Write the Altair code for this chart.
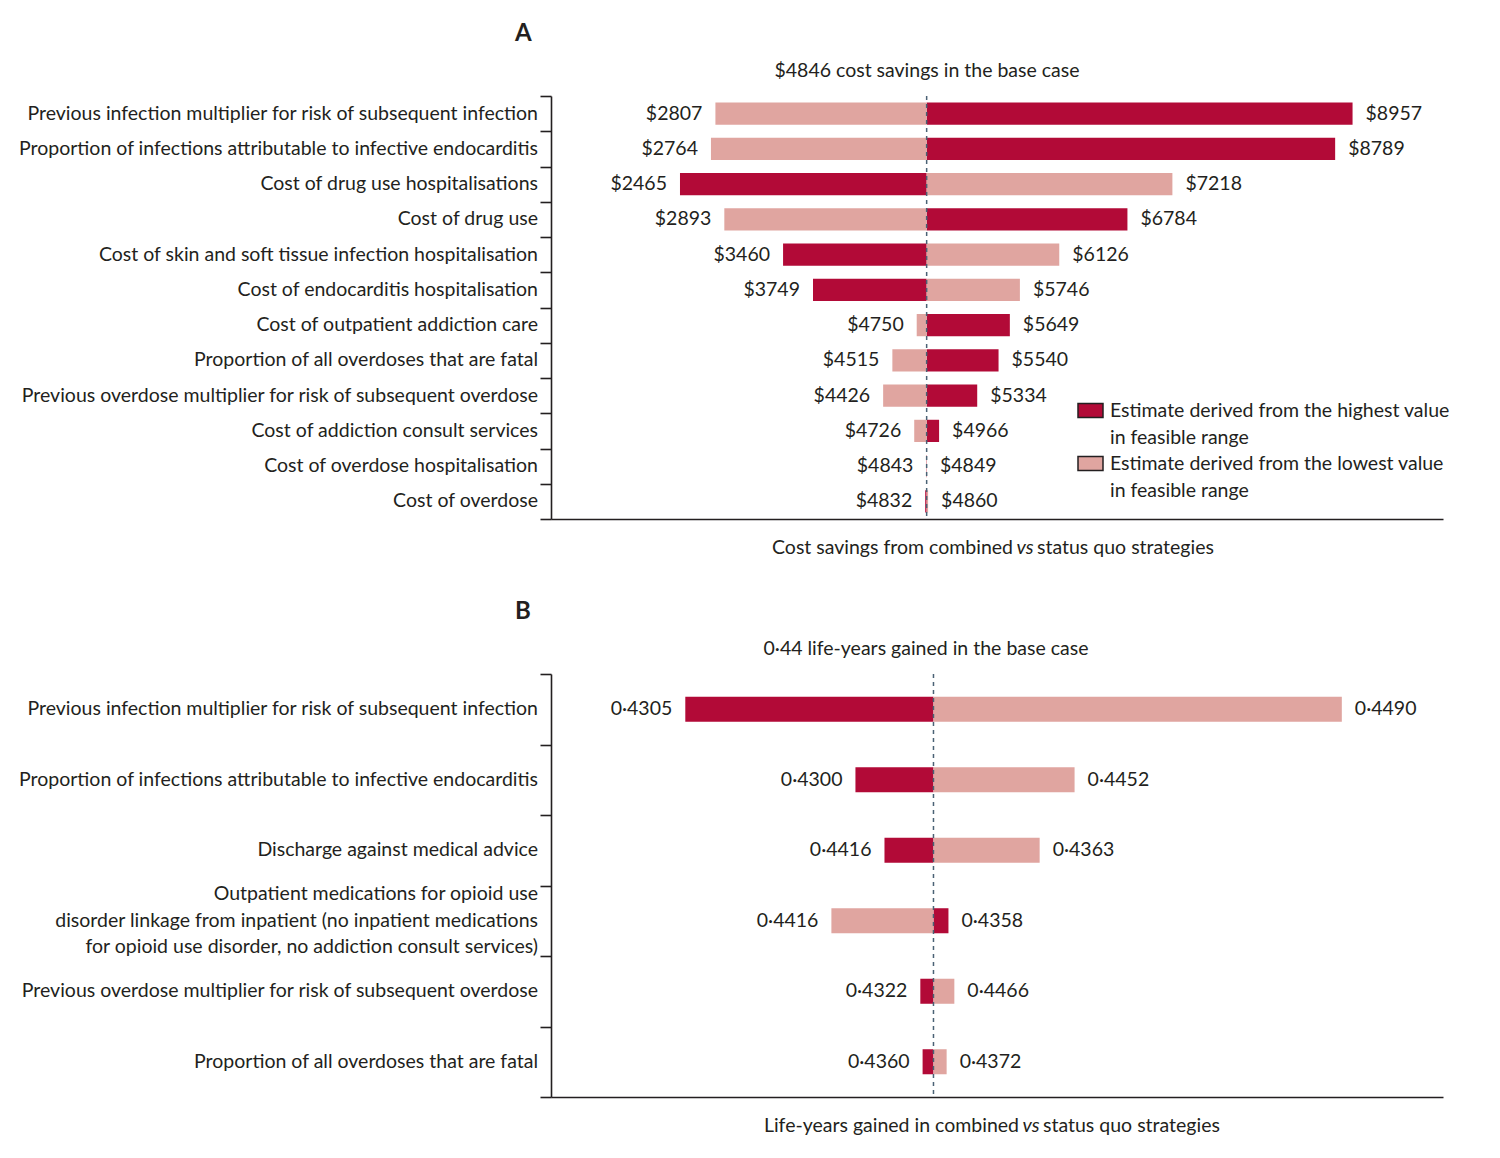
import altair as alt
import pandas as pd

FONT = "Lato"
FS = 19.5
LH = 26.5
DARK = "#b20a37"
LIGHT = "#e0a5a0"
TEXT = "#231f20"
DASH = "#4a6275"

# ---------------- Panel A data ----------------
a_params = [
    "Previous infection multiplier for risk of subsequent infection",
    "Proportion of infections attributable to infective endocarditis",
    "Cost of drug use hospitalisations",
    "Cost of drug use",
    "Cost of skin and soft tissue infection hospitalisation",
    "Cost of endocarditis hospitalisation",
    "Cost of outpatient addiction care",
    "Proportion of all overdoses that are fatal",
    "Previous overdose multiplier for risk of subsequent overdose",
    "Cost of addiction consult services",
    "Cost of overdose hospitalisation",
    "Cost of overdose",
]
a_from_highest = [8957, 8789, 2465, 6784, 3460, 3749, 5649, 5540, 5334, 4966, 4849, 4832]
a_from_lowest = [2807, 2764, 7218, 2893, 6126, 5746, 4750, 4515, 4426, 4726, 4843, 4860]
a_base = 4846
a_domain = [1220, 9830]

# ---------------- Panel B data ----------------
b_params = [
    "Previous infection multiplier for risk of subsequent infection",
    "Proportion of infections attributable to infective endocarditis",
    "Discharge against medical advice",
    "Outpatient medications for opioid use|disorder linkage from inpatient (no inpatient medications|for opioid use disorder, no addiction consult services)",
    "Previous overdose multiplier for risk of subsequent overdose",
    "Proportion of all overdoses that are fatal",
]
# bar ends as drawn in the figure
b_from_highest = [0.43453, 0.43828, 0.43892, 0.44033, 0.43971, 0.43976]
b_from_lowest = [0.44900, 0.44311, 0.44234, 0.43775, 0.44046, 0.44029]
# printed values
b_left_text = ["0·4305", "0·4300", "0·4416", "0·4416", "0·4322", "0·4360"]
b_right_text = ["0·4490", "0·4452", "0·4363", "0·4358", "0·4466", "0·4372"]
b_base = 0.44
b_domain = [0.43157, 0.45123]

HIGH = "Estimate derived from the highest value|in feasible range"
LOW = "Estimate derived from the lowest value|in feasible range"

W = 892
H = 423


def bars_df(params, high, low, base):
    rows = []
    for p, h, l in zip(params, high, low):
        rows.append(dict(param=p, start=base, end=h, kind=HIGH))
        rows.append(dict(param=p, start=base, end=l, kind=LOW))
    return pd.DataFrame(rows)


def labels_df(params, high, low, ltxt, rtxt):
    rows = []
    for p, h, l, lt, rt in zip(params, high, low, ltxt, rtxt):
        rows.append(dict(param=p, pos=min(h, l), txt=lt, side="left"))
        rows.append(dict(param=p, pos=max(h, l), txt=rt, side="right"))
    return pd.DataFrame(rows)


def cats_df(params, height):
    step = height / len(params)
    return pd.DataFrame({
        "param": params,
        "off": [step / 2 - p.count("|") * LH / 2 for p in params],
    })


a_left_text = ["$" + str(min(h, l)) for h, l in zip(a_from_highest, a_from_lowest)]
a_right_text = ["$" + str(max(h, l)) for h, l in zip(a_from_highest, a_from_lowest)]


def panel(params, bars, labels, base, domain, band, height, letter, subtitle,
          sub_x, xt_left, xt_right, vs_x, legend):
    yenc = alt.Y(
        "param:N", sort=params, title=None,
        scale=alt.Scale(paddingInner=0, paddingOuter=0),
        axis=alt.Axis(
            tickBand="extent", tickSize=11, tickColor=TEXT, tickWidth=1.6,
            domainColor=TEXT, domainWidth=1.6, labels=False,
        ),
    )
    ysimple = alt.Y("param:N", sort=params)
    xs = alt.Scale(domain=domain, nice=False, zero=False)
    xaxis = alt.Axis(title=None, labels=False, ticks=False, grid=False,
                     domainColor=TEXT, domainWidth=1.6)
    color = alt.Color("kind:N", scale=alt.Scale(domain=[HIGH, LOW], range=[DARK, LIGHT]),
                      legend=legend)
    bars_ch = alt.Chart(bars).mark_bar(
        opacity=1, height=alt.RelativeBandSize(band=band)
    ).encode(
        y=yenc, x=alt.X("start:Q", scale=xs, axis=xaxis), x2="end:Q", color=color
    )
    rule = alt.Chart(pd.DataFrame({"b": [base]})).mark_rule(
        strokeDash=[4, 4], color=DASH, strokeWidth=1.5
    ).encode(x=alt.X("b:Q", scale=xs))
    ltxt = alt.Chart(labels[labels.side == "left"]).mark_text(
        align="right", baseline="middle", dx=-13, font=FONT, fontSize=FS, color=TEXT
    ).encode(y=ysimple, x=alt.X("pos:Q", scale=xs), text="txt:N")
    rtxt = alt.Chart(labels[labels.side == "right"]).mark_text(
        align="left", baseline="middle", dx=13, font=FONT, fontSize=FS, color=TEXT
    ).encode(y=ysimple, x=alt.X("pos:Q", scale=xs), text="txt:N")
    cats = alt.Chart(cats_df(params, height)).mark_text(
        align="right", baseline="middle", font=FONT, fontSize=FS, color=TEXT,
        lineBreak="|", lineHeight=LH,
    ).encode(
        y=ysimple, yOffset=alt.YOffset("off:Q", scale=None),
        x=alt.value(-13), text="param:N",
    )

    deco = pd.DataFrame({"d": [0]})
    let = alt.Chart(deco).mark_text(
        text=letter, align="left", baseline="alphabetic", font=FONT, fontSize=24,
        fontWeight="bold", color=TEXT
    ).encode(x=alt.value(-36), y=alt.value(-55))
    sub = alt.Chart(deco).mark_text(
        text=subtitle, align="center", baseline="alphabetic", font=FONT, fontSize=FS,
        color=TEXT
    ).encode(x=alt.value(sub_x), y=alt.value(-19))
    t1 = alt.Chart(deco).mark_text(
        text=xt_left, align="right", baseline="alphabetic", font=FONT, fontSize=FS,
        color=TEXT
    ).encode(x=alt.value(vs_x - 12), y=alt.value(height + 35))
    t2 = alt.Chart(deco).mark_text(
        text="vs", align="center", baseline="alphabetic", font=FONT, fontSize=FS,
        fontStyle="italic", color=TEXT
    ).encode(x=alt.value(vs_x), y=alt.value(height + 35))
    t3 = alt.Chart(deco).mark_text(
        text=xt_right, align="left", baseline="alphabetic", font=FONT, fontSize=FS,
        color=TEXT
    ).encode(x=alt.value(vs_x + 12), y=alt.value(height + 35))
    return alt.layer(bars_ch, rule, ltxt, rtxt, cats, let, sub, t1, t2, t3).properties(
        width=W, height=height
    )


legend_a = alt.Legend(
    title=None, orient="none", legendX=526, legendY=301,
    labelExpr="split(datum.label, '|')", labelFont=FONT, labelFontSize=FS,
    labelColor=TEXT, labelLimit=0, labelOffset=6, labelBaseline="middle",
    symbolType="M-1,-0.56L1,-0.56L1,0.56L-1,0.56Z", symbolSize=625,
    symbolStrokeColor=TEXT, symbolStrokeWidth=1.5, symbolOpacity=1,
    rowPadding=3,
)

chart_a = panel(
    a_params,
    bars_df(a_params, a_from_highest, a_from_lowest, a_base),
    labels_df(a_params, a_from_highest, a_from_lowest, a_left_text, a_right_text),
    a_base, a_domain, 0.63, H, "A", "$4846 cost savings in the base case", 376,
    "Cost savings from combined", "status quo strategies", 474, legend_a,
)
chart_b = panel(
    b_params,
    bars_df(b_params, b_from_highest, b_from_lowest, b_base),
    labels_df(b_params, b_from_highest, b_from_lowest, b_left_text, b_right_text),
    b_base, b_domain, 0.355, H, "B", "0·44 life-years gained in the base case", 375,
    "Life-years gained in combined", "status quo strategies", 480, None,
)

chart = alt.vconcat(chart_a, chart_b, spacing=155, bounds="flush").resolve_scale(
    color="independent", y="independent", x="independent"
).properties(
    padding={"left": 10, "top": 14, "right": 10, "bottom": 10}
).configure(
    background="white", style={"guide-label": {"lineHeight": 27}}
).configure_view(strokeWidth=0, strokeOpacity=0)

chart.save("out.html", embed_options={"renderer": "svg", "actions": False})
